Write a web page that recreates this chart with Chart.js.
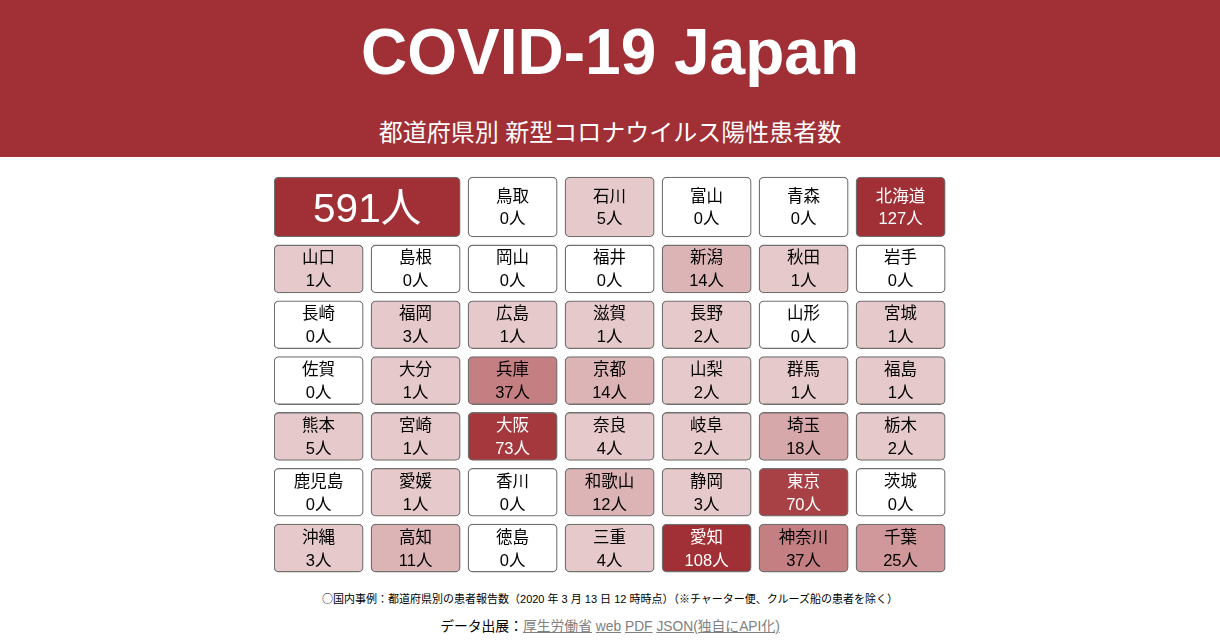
<!DOCTYPE html>
<html lang="ja">
<head>
<meta charset="utf-8">
<title>COVID-19 Japan</title>
<script src="https://cdn.jsdelivr.net/npm/chart.js@4"></script>
<style>
  body { margin: 0; background: #fff; width: 1220px; height: 640px; overflow: hidden; position: relative;
    font-family: "Liberation Sans", "Noto Sans CJK JP", sans-serif; color: #000; }
  #head { position: absolute; left: 0; top: 0; width: 1220px; height: 157px; background: #a03035; color: #fff; text-align: center; }
  #head h1 { position: absolute; left: 0; right: 0; top: 13px; margin: 0; font-size: 64px; line-height: 78px; font-weight: bold; }
  #head p { position: absolute; left: 0; right: 0; top: 116px; margin: 0; font-size: 24px; line-height: 34px; }
  #wrap { position: absolute; left: 0; top: 160px; width: 1220px; height: 425px; }
  .note { position: absolute; left: 0; right: 0; text-align: center; margin: 0; }
  #note1 { top: 590px; font-size: 11px; line-height: 16px; }
  #note1 span { font-family: "Noto Sans CJK JP", sans-serif; }
  #note2 { top: 617px; font-size: 13.8px; line-height: 20px; }
  #note2 a { color: #808080; text-decoration: underline; }
</style>
</head>
<body>
<div id="head">
  <h1>COVID-19 Japan</h1>
  <p>都道府県別 新型コロナウイルス陽性患者数</p>
</div>
<div id="wrap"><canvas id="myChart"></canvas></div>
<p class="note" id="note1"><span>○</span>国内事例：都道府県別の患者報告数（2020 年 3 月 13 日 12 時時点）（<span>※</span>チャーター便、クルーズ船の患者を除く）</p>
<p class="note" id="note2">データ出展：<a href="#">厚生労働省</a> <a href="#">web</a> <a href="#">PDF</a> <a href="#">JSON(独自にAPI化)</a></p>
<script>
const totalLabel = '591人';
const totalCount = 591;

const rowLabels = ['r1', 'r2', 'r3', 'r4', 'r5', 'r6'];

const topNames = ['鳥取', '石川', '富山', '青森', '北海道'];
const topCounts = [0, 5, 0, 0, 127];

const names1 = ['山口', '島根', '岡山', '福井', '新潟', '秋田', '岩手'];
const counts1 = [1, 0, 0, 0, 14, 1, 0];
const names2 = ['長崎', '福岡', '広島', '滋賀', '長野', '山形', '宮城'];
const counts2 = [0, 3, 1, 1, 2, 0, 1];
const names3 = ['佐賀', '大分', '兵庫', '京都', '山梨', '群馬', '福島'];
const counts3 = [0, 1, 37, 14, 2, 1, 1];
const names4 = ['熊本', '宮崎', '大阪', '奈良', '岐阜', '埼玉', '栃木'];
const counts4 = [5, 1, 73, 4, 2, 18, 2];
const names5 = ['鹿児島', '愛媛', '香川', '和歌山', '静岡', '東京', '茨城'];
const counts5 = [0, 1, 0, 12, 3, 70, 0];
const names6 = ['沖縄', '高知', '徳島', '三重', '愛知', '神奈川', '千葉'];
const counts6 = [3, 11, 0, 4, 108, 37, 25];

const gridNames = [names1, names2, names3, names4, names5, names6];
const gridCounts = [counts1, counts2, counts3, counts4, counts5, counts6];

// tile colour steps, by patient count
const stepFrom = [1, 11, 18, 25, 37, 70, 73, 108];
const stepAlpha = [0.26, 0.36, 0.42, 0.5, 0.62, 0.92, 0.96, 1];

function tileColor(n) {
  if (n === 0) return '#ffffff';
  let a = 0.26;
  stepFrom.forEach((s, i) => { if (n >= s) a = stepAlpha[i]; });
  const mix = (c) => Math.round(255 + (c - 255) * a);
  return `rgb(${mix(160)},${mix(48)},${mix(53)})`;
}

const span = 0.92;
const tile = { borderColor: '#707070', borderWidth: 1.3, borderRadius: 5, borderSkipped: false, grouped: false };

const datasets = [{
  ...tile,
  yAxisID: 'yTop',
  barThickness: 60,
  data: [{ x: [0, 1 + span], y: 'top', name: '', count: totalCount }]
    .concat(topNames.map((name, i) => ({ x: [i + 2, i + 2 + span], y: 'top', name, count: topCounts[i] }))),
}];
gridNames.forEach((row, r) => {
  datasets.push({
    ...tile,
    yAxisID: 'y',
    barThickness: 48,
    data: row.map((name, i) => ({ x: [i, i + span], y: rowLabels[r], name, count: gridCounts[r][i] })),
  });
});
datasets.forEach((d) => { d.backgroundColor = d.data.map((t) => tileColor(t.count)); });

const FONT = '"Liberation Sans", "Noto Sans CJK JP", sans-serif';

const tileText = {
  id: 'tileText',
  afterDatasetsDraw(chart) {
    const c = chart.ctx;
    c.save();
    c.textAlign = 'center';
    c.textBaseline = 'middle';
    chart.data.datasets.forEach((d, di) => {
      chart.getDatasetMeta(di).data.forEach((bar, i) => {
        const t = d.data[i];
        const cx = (bar.x + bar.base) / 2;
        c.fillStyle = t.count >= 70 ? '#ffffff' : '#000000';
        if (t.name === '') {
          c.font = '40.5px ' + FONT;
          c.fillText(totalLabel, cx, bar.y + 4);
          return;
        }
        c.font = '16.5px ' + FONT;
        c.fillText(t.name, cx, bar.y - 10);
        c.fillText(t.count + '人', cx, bar.y + (di === 0 ? 12 : 13));
      });
    });
    c.restore();
  },
};

new Chart(document.getElementById('myChart'), {
  type: 'bar',
  data: { datasets },
  plugins: [tileText],
  options: {
    indexAxis: 'y',
    responsive: true,
    maintainAspectRatio: false,
    animation: false,
    layout: { padding: { left: 274, right: 267, top: 13, bottom: 9 } },
    plugins: { legend: { display: false }, tooltip: { enabled: false } },
    scales: {
      x: { type: 'linear', min: 0, max: 7, display: false },
      yTop: { type: 'category', labels: ['top'], display: false, position: 'left', stack: 'rows', stackWeight: 68, weight: 2 },
      y: { type: 'category', labels: rowLabels, display: false, position: 'left', stack: 'rows', stackWeight: 335, weight: 1 },
    },
  },
});
</script>
</body>
</html>
